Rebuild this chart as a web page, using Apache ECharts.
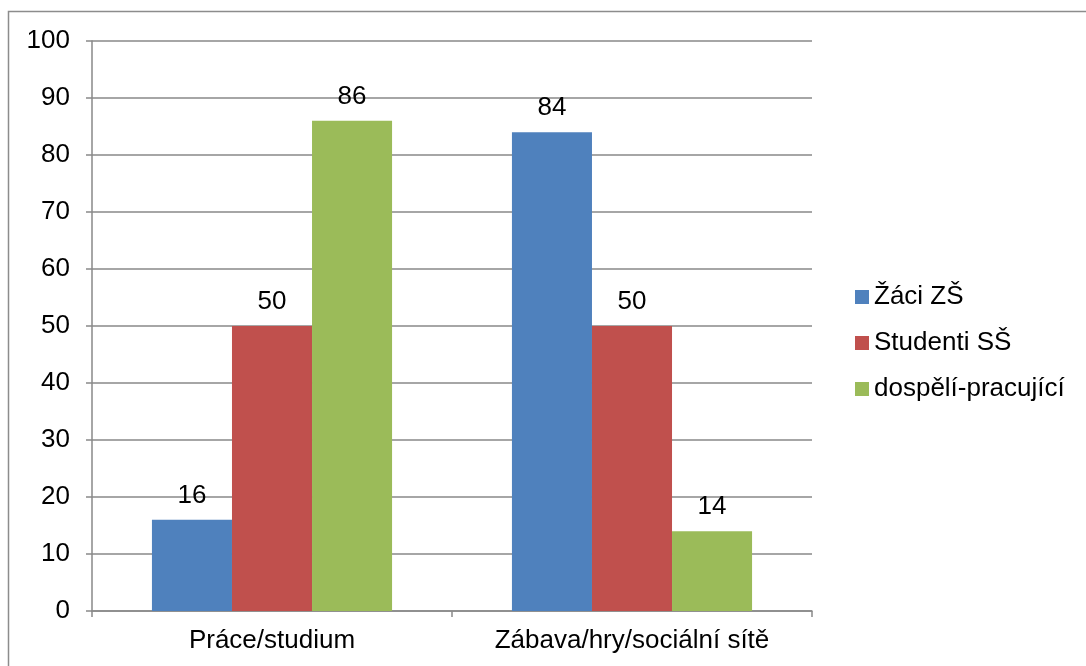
<!DOCTYPE html>
<html>
<head>
<meta charset="utf-8">
<script src="https://cdn.jsdelivr.net/npm/echarts@6/dist/echarts.min.js"></script>
<style>
  html, body { margin: 0; padding: 0; background: #fff; }
  #chart { width: 1086px; height: 666px; }
</style>
</head>
<body>
<div id="chart"></div>
<script>
// Categories and series values
const categories = ['Práce/studium', 'Zábava/hry/sociální sítě'];
const seriesNames = ['Žáci ZŠ', 'Studenti SŠ', 'dospělí-pracující'];
const zaciZS = [16, 84];
const studentiSS = [50, 50];
const dospeliPracujici = [86, 14];
const colors = ['#4F81BD', '#C0504D', '#9BBB59'];

const font = 'Liberation Sans, Arial, sans-serif';
const fontSize = 26;
const axisGray = '#898989';

const chart = echarts.init(document.getElementById('chart'), null, { renderer: 'canvas' });

function barSeries(name, data, color) {
  return {
    name: name,
    type: 'bar',
    data: data,
    barGap: '0%',
    barCategoryGap: '33.3%',
    itemStyle: { color: color },
    label: {
      show: true,
      position: 'top',
      distance: 11,
      color: '#000',
      fontFamily: font,
      fontSize: fontSize
    }
  };
}

chart.setOption({
  animation: false,
  backgroundColor: '#fff',
  graphic: [{
    type: 'rect',
    shape: { x: 8.5, y: 11.5, width: 1090, height: 670 },
    style: { fill: 'none', stroke: '#8c8c8c', lineWidth: 1.5 }
  }],
  grid: { left: 92, right: 274, top: 41, bottom: 55 },
  legend: {
    orient: 'vertical',
    left: 855,
    top: 284,
    padding: 0,
    itemWidth: 14,
    itemHeight: 14,
    itemGap: 20,
    icon: 'rect',
    textStyle: { fontFamily: font, fontSize: fontSize, color: '#000' },
    data: seriesNames
  },
  xAxis: {
    type: 'category',
    data: categories,
    axisLine: { lineStyle: { color: axisGray, width: 1.5 } },
    axisTick: { show: true, length: 6, lineStyle: { color: axisGray, width: 1.5 } },
    axisLabel: { fontFamily: font, fontSize: fontSize, color: '#000', margin: 17 }
  },
  yAxis: {
    type: 'value',
    min: 0,
    max: 100,
    interval: 10,
    axisLine: { show: true, lineStyle: { color: axisGray, width: 1.5 } },
    axisTick: { show: true, length: 6, lineStyle: { color: axisGray, width: 1.5 } },
    axisLabel: { fontFamily: font, fontSize: fontSize, color: '#000', margin: 22 },
    splitLine: { lineStyle: { color: axisGray, width: 1.5 } }
  },
  series: [
    barSeries(seriesNames[0], zaciZS, colors[0]),
    barSeries(seriesNames[1], studentiSS, colors[1]),
    barSeries(seriesNames[2], dospeliPracujici, colors[2])
  ]
});
</script>
</body>
</html>
